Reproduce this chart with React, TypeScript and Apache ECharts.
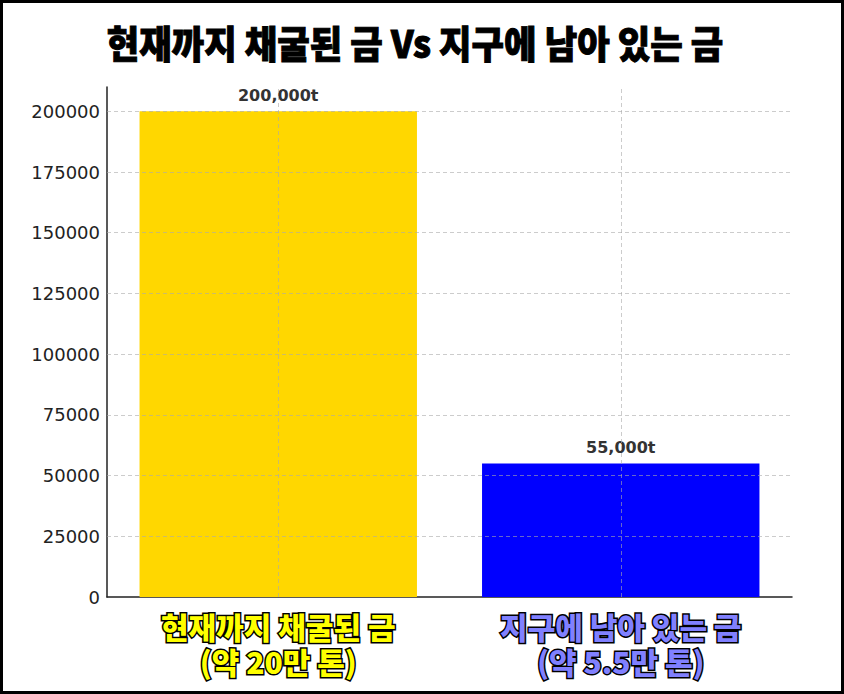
import { useEffect, useRef } from 'react';
import * as echarts from 'echarts';

// chart data
const categories = ['현재까지 채굴된 금\n(약 20만 톤)', '지구에 남아 있는 금\n(약 5.5만 톤)'];
const values = [200000, 55000];
const valueLabels = ['200,000t', '55,000t'];
const barColors = ['#FFD700', '#0000FF'];
const labelColors = ['#FFFF00', '#8080FF'];
const yTicks = [0, 25000, 50000, 75000, 100000, 125000, 150000, 175000, 200000];
const titleText = '현재까지 채굴된 금 Vs 지구에 남아 있는 금';

const KR_FONT = '"Noto Sans CJK KR", "Noto Sans", sans-serif';
const GRID_COLOR = 'rgba(170,170,170,0.6)';

const App = () => {
    const chartRef = useRef<HTMLDivElement>(null);

    useEffect(() => {
        if (!chartRef.current) return;
        const chart = echarts.init(chartRef.current, undefined, { renderer: 'svg' });

        const option: echarts.EChartsOption = {
            animation: false,
            backgroundColor: '#ffffff',
            grid: { left: 107, right: 52, top: 87, bottom: 97 },
            graphic: [
                {
                    type: 'rect',
                    shape: { x: 1.5, y: 1.5, width: 841, height: 691 },
                    style: { fill: 'none', stroke: '#000', lineWidth: 3 },
                    silent: true,
                    z: 100
                },
                {
                    type: 'text',
                    x: 415,
                    y: 41,
                    scaleX: 0.93,
                    style: {
                        text: titleText,
                        fill: '#000',
                        stroke: '#000',
                        lineWidth: 1,
                        fontSize: 38,
                        fontWeight: 900,
                        fontFamily: KR_FONT,
                        textAlign: 'center',
                        textVerticalAlign: 'middle'
                    } as any
                }
            ],
            xAxis: {
                type: 'category',
                data: categories,
                boundaryGap: true,
                axisLine: { lineStyle: { color: '#222', width: 1.5 } },
                axisTick: { show: false },
                splitLine: { show: false },
                axisLabel: {
                    interval: 0,
                    margin: 11,
                    fontSize: 30,
                    lineHeight: 35,
                    fontWeight: 900,
                    fontFamily: KR_FONT,
                    color: ((_v: string, i: number) => labelColors[i]) as any,
                    textBorderColor: '#000',
                    textBorderWidth: 3
                }
            },
            yAxis: {
                type: 'value',
                min: 0,
                max: 210000,
                interval: 25000,
                axisLine: { show: true, lineStyle: { color: '#222', width: 1.5 } },
                axisTick: { show: false },
                splitLine: { show: false },
                axisLabel: {
                    showMaxLabel: false,
                    margin: 7,
                    fontSize: 18,
                    color: '#222',
                    fontFamily: '"DejaVu Sans", sans-serif',
                    formatter: (v: number) => String(v)
                }
            },
            series: [
                {
                    type: 'bar',
                    barWidth: '81%',
                    data: values.map((v, i) => ({ value: v, itemStyle: { color: barColors[i] } })),
                    label: {
                        show: true,
                        position: 'top',
                        distance: 8,
                        formatter: (p: any) => valueLabels[p.dataIndex],
                        fontSize: 16,
                        fontWeight: 'bold',
                        color: '#333',
                        fontFamily: '"DejaVu Sans", sans-serif'
                    },
                    markLine: {
                        silent: true,
                        symbol: 'none',
                        label: { show: false },
                        lineStyle: { color: GRID_COLOR, type: [4, 3], width: 1 },
                        data: [
                            ...yTicks.filter(t => t > 0).map(t => ({ yAxis: t })),
                            ...categories.map(c => ({ xAxis: c }))
                        ]
                    }
                }
            ]
        };

        chart.setOption(option);
        return () => {
            chart.dispose();
        };
    }, []);

    return (
        <div
            ref={chartRef}
            style={{ position: 'absolute', left: 0, top: 0, width: 844, height: 694 }}
        />
    );
};

export default App;
